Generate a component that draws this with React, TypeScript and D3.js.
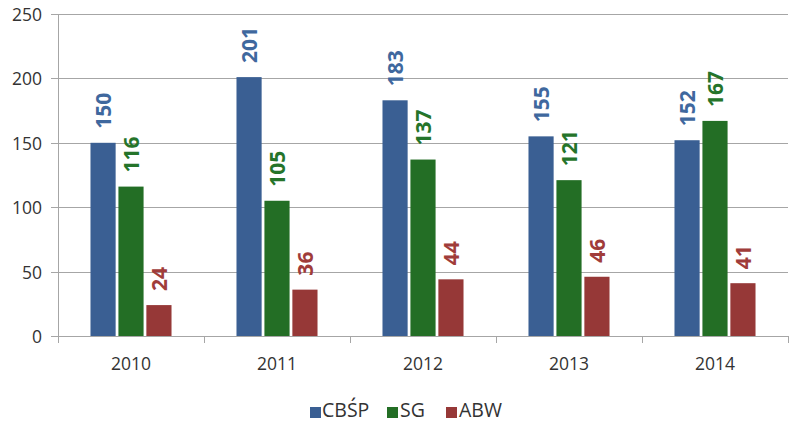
import React from "react";
import * as d3 from "d3";

const years = ["2010", "2011", "2012", "2013", "2014"];
const seriesNames = ["CBŚP", "SG", "ABW"];
const cbsp = [150, 201, 183, 155, 152];
const sg = [116, 105, 137, 121, 167];
const abw = [24, 36, 44, 46, 41];
const yTicks = [0, 50, 100, 150, 200, 250];
const barColors = ["#3A5F93", "#236E25", "#963837"];
const labelColors = ["#3F689E", "#25742A", "#A03C3A"];

const W = 799;
const H = 432;
const FONT = "'Open Sans', 'Noto Sans', sans-serif";

export default function App() {
  const seriesValues = [cbsp, sg, abw];
  const x0 = d3.scaleBand<string>().domain(years).range([58, 788]).paddingInner(0.445).paddingOuter(0.2225);
  const x1 = d3.scaleBand<string>().domain(seriesNames).range([0, x0.bandwidth()]).paddingInner(0.1);
  const y = d3.scaleLinear().domain([0, 250]).range([336, 14]);
  const step = x0.step();
  const left = 58;
  const right = 788;

  const legendItems = [
    { name: "CBŚP", x: 310, tx: 322 },
    { name: "SG", x: 387, tx: 400 },
    { name: "ABW", x: 446, tx: 459 },
  ];

  return (
    <svg width={W} height={H} style={{ position: "absolute", left: 0, top: 0, background: "#fff" }} fontFamily={FONT}>
      <rect x={0} y={0} width={W} height={H} fill="#fff" />
      {yTicks.map((t) => (
        <g key={t}>
          {t > 0 && <line x1={left} x2={right} y1={Math.round(y(t)) + 0.5} y2={Math.round(y(t)) + 0.5} stroke="#A6A6A6" strokeWidth={1} />}
          <line x1={left - 7} x2={left} y1={Math.round(y(t)) + 0.5} y2={Math.round(y(t)) + 0.5} stroke="#A6A6A6" strokeWidth={1} />
          <text x={42} y={y(t)} textAnchor="end" dominantBaseline="central" fontSize={17.5} fill="#333">
            {t}
          </text>
        </g>
      ))}
      <line x1={left + 0.5} x2={left + 0.5} y1={y(250)} y2={y(0)} stroke="#A6A6A6" />
      <line x1={left} x2={right} y1={Math.round(y(0)) + 0.5} y2={Math.round(y(0)) + 0.5} stroke="#A6A6A6" />
      {d3.range(years.length + 1).map((i) => (
        <line key={i} x1={left + i * step + 0.5} x2={left + i * step + 0.5} y1={y(0)} y2={y(0) + 7} stroke="#A6A6A6" />
      ))}
      {years.map((yr, i) => (
        <g key={yr} transform={`translate(${x0(yr)},0)`}>
          {seriesNames.map((s, j) => {
            const v = seriesValues[j][i];
            const bx = x1(s)!;
            const cx = bx + x1.bandwidth() / 2;
            return (
              <g key={s}>
                <rect x={bx} y={y(v)} width={x1.bandwidth()} height={y(0) - y(v)} fill={barColors[j]} />
                <text
                  transform={`translate(${cx},${y(v) - 14}) rotate(-90)`}
                  textAnchor="start"
                  dominantBaseline="central"
                  fontSize={21}
                  fontWeight="bold"
                  fill={labelColors[j]}
                >
                  {v}
                </text>
              </g>
            );
          })}
          <text x={x0.bandwidth() / 2} y={370} textAnchor="middle" fontSize={17.5} fill="#333">
            {yr}
          </text>
        </g>
      ))}
      {legendItems.map((it, j) => (
        <g key={it.name}>
          <rect x={it.x} y={407} width={11} height={11} fill={barColors[j]} />
          <text x={it.tx} y={417} fontSize={19.5} fill="#333">
            {it.name}
          </text>
        </g>
      ))}
    </svg>
  );
}
